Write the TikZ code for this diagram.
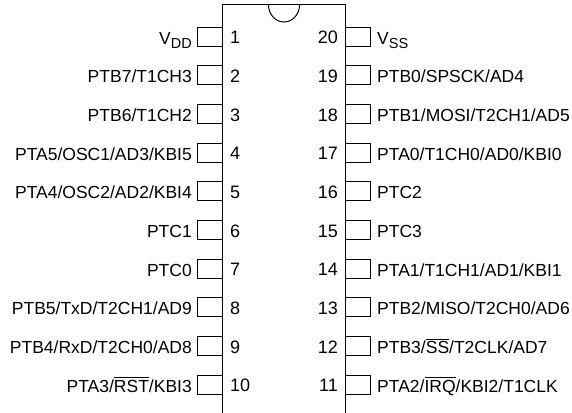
\documentclass[tikz,border=0pt]{standalone}
\usepackage{fontspec}
\setmainfont{Liberation Sans}
\usepackage{amsmath}

\newcommand{\pinbar}[1]{$\overline{\text{#1}}$}
\newcommand{\pinlow}[1]{\raisebox{-4.5pt}{\fontsize{14.5}{16}\selectfont #1}}

\tikzset{
    pinname/.style={font=\fontsize{17.5}{20}\selectfont, inner sep=0pt},
    pinnum/.style={font=\fontsize{18}{20}\selectfont, inner sep=0pt},
    pinbox/.style={draw=black, line width=1pt}
}

\begin{document}
\begin{tikzpicture}[x=1pt, y=-1pt]
    \useasboundingbox (0,0) rectangle (572,412);
    \fill[white] (0,0) rectangle (572,412);

    % package outline with notch
    \draw[line width=1pt] (222.5,415) -- (222.5,5) -- (345.5,5) -- (345.5,415);
    \draw[line width=1pt] (268.5,5) arc[start angle=180, end angle=360, x radius=15.5pt, y radius=17pt];

    % left row
    \foreach \i/\txt in {1/{V\pinlow{DD}}, 2/{PTB7/T1CH3}, 3/{PTB6/T1CH2}, 4/{PTA5/OSC1/AD3/KBI5}, 5/{PTA4/OSC2/AD2/KBI4}, 6/{PTC1}, 7/{PTC0}, 8/{PTB5/TxD/T2CH1/AD9}, 9/{PTB4/RxD/T2CH0/AD8}, 10/{PTA3/\pinbar{RST}/KBI3}} {
        \pgfmathsetmacro{\yc}{36.7+38.67*(\i-1)}
        \draw[pinbox] (222.5,\yc-9.5) -- (197,\yc-9.5) -- (197,\yc+9.5) -- (222.5,\yc+9.5);
        \node[pinnum, anchor=base west] (num\i) at (230,\yc+7) {\i};
        \node[pinname, anchor=base east] (name\i) at (192,\yc+7.5) {\txt};
    }

    % right row
    \foreach \i/\txt in {20/{V\pinlow{SS}}, 19/{PTB0/SPSCK/AD4}, 18/{PTB1/MOSI/T2CH1/AD5}, 17/{PTA0/T1CH0/AD0/KBI0}, 16/{PTC2}, 15/{PTC3}, 14/{PTA1/T1CH1/AD1/KBI1}, 13/{PTB2/MISO/T2CH0/AD6}, 12/{PTB3/\pinbar{SS}/T2CLK/AD7}, 11/{PTA2/\pinbar{IRQ}/KBI2/T1CLK}} {
        \pgfmathsetmacro{\yc}{36.7+38.67*(20-\i)}
        \draw[pinbox] (345.5,\yc-9.5) -- (370.5,\yc-9.5) -- (370.5,\yc+9.5) -- (345.5,\yc+9.5);
        \node[pinnum, anchor=base east] (num\i) at (338,\yc+7) {\i};
        \node[pinname, anchor=base west] (name\i) at (377,\yc+7.5) {\txt};
    }
\end{tikzpicture}
\end{document}
